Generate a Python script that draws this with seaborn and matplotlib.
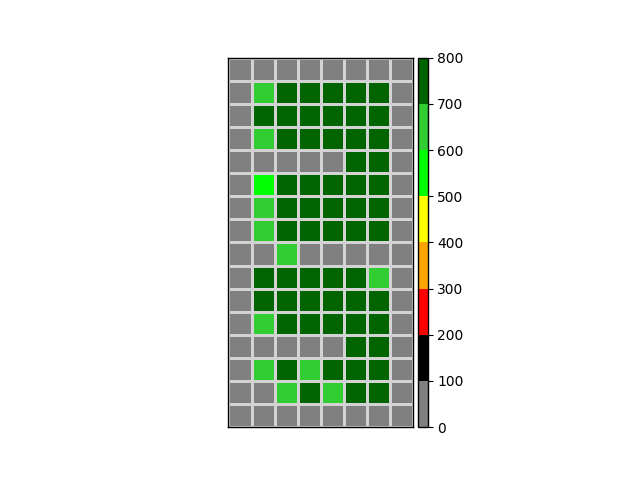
import numpy as np
import matplotlib
matplotlib.use("Agg")
import matplotlib.pyplot as plt
from matplotlib.colors import ListedColormap, BoundaryNorm
from mpl_toolkits.axes_grid1 import make_axes_locatable
import seaborn as sns

# valores das celulas (16 linhas x 8 colunas)
G, L, V, D = 50, 650, 550, 750
grade = [
    [G, G, G, G, G, G, G, G],
    [G, L, D, D, D, D, D, G],
    [G, D, D, D, D, D, D, G],
    [G, L, D, D, D, D, D, G],
    [G, G, G, G, G, D, D, G],
    [G, V, D, D, D, D, D, G],
    [G, L, D, D, D, D, D, G],
    [G, L, D, D, D, D, D, G],
    [G, G, L, G, G, G, G, G],
    [G, D, D, D, D, D, L, G],
    [G, D, D, D, D, D, D, G],
    [G, L, D, D, D, D, D, G],
    [G, G, G, G, G, D, D, G],
    [G, L, D, L, D, D, D, G],
    [G, G, L, D, L, D, D, G],
    [G, G, G, G, G, G, G, G],
]
cores = ['gray', 'black', 'red', 'orange', 'yellow', 'lime', 'limegreen', 'darkgreen']
limites = [0, 100, 200, 300, 400, 500, 600, 700, 800]

cmap = ListedColormap(cores)
norm = BoundaryNorm(limites, cmap.N)

fig, ax = plt.subplots(figsize=(6.4, 4.8), dpi=100)
divider = make_axes_locatable(ax)
cax = divider.append_axes("right", size="5%", pad=0.05)

sns.heatmap(np.array(grade), ax=ax, cbar_ax=cax, cmap=cmap, norm=norm,
            linewidths=1.0, linecolor='lightgray', square=True,
            xticklabels=False, yticklabels=False,
            cbar_kws={'ticks': limites})

# devolvendo a moldura que o seaborn tira
for s in ax.spines.values():
    s.set_visible(True)
    s.set_color('black')
    s.set_linewidth(1)
cb = ax.collections[0].colorbar
cb.outline.set_linewidth(1)
cb.outline.set_edgecolor('black')

fig.savefig('out.png', dpi=100)
